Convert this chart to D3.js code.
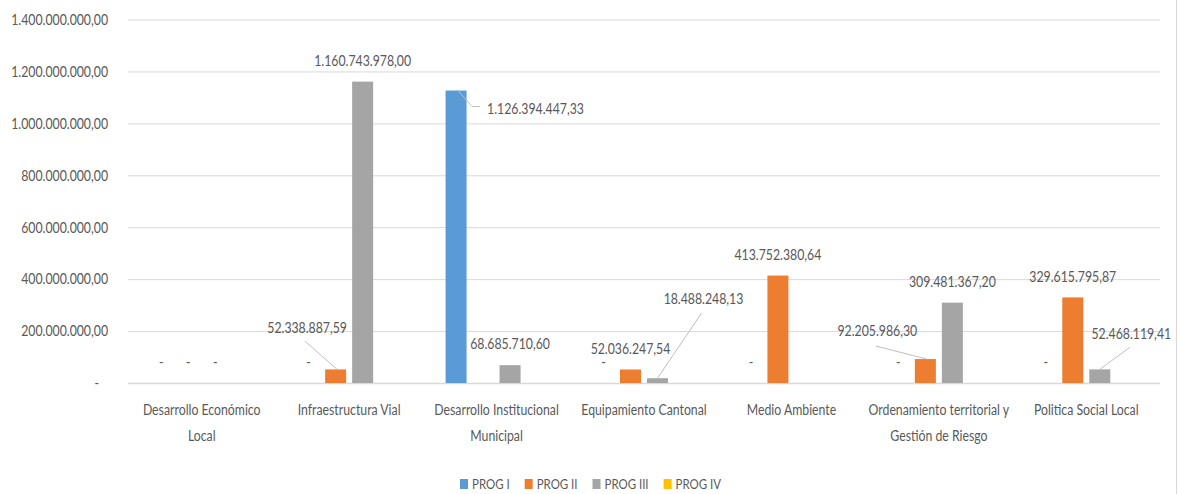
<!DOCTYPE html>
<html><head><meta charset="utf-8">
<script src="https://cdn.jsdelivr.net/npm/d3@7"></script>
<style>
html,body{margin:0;padding:0;background:#fff;}
svg text{font-family:Lato,"Open Sans",sans-serif;fill:#595959;font-size:15px;}
</style></head><body>
<svg id="chart" width="1181" height="494"></svg>
<script>
// ---- data ----
const categories = [
  "Desarrollo Económico Local",
  "Infraestructura Vial",
  "Desarrollo Institucional Municipal",
  "Equipamiento Cantonal",
  "Medio Ambiente",
  "Ordenamiento territorial y Gestión de Riesgo",
  "Politica Social Local"
];
const seriesNames = ["PROG I", "PROG II", "PROG III", "PROG IV"];
const progI   = [0, 0, 1126394447.33, 0, 0, 0, 0];
const progII  = [0, 52338887.59, null, 52036247.54, 413752380.64, 92205986.30, 329615795.87];
const progIII = [0, 1160743978.00, 68685710.60, 18488248.13, null, 309481367.20, 52468119.41];
const progIV  = [null, null, null, null, null, null, null];
const yTicks = [0, 200000000, 400000000, 600000000, 800000000, 1000000000, 1200000000, 1400000000];
const yTickLabels = ["-", "200.000.000,00", "400.000.000,00", "600.000.000,00", "800.000.000,00",
                     "1.000.000.000,00", "1.200.000.000,00", "1.400.000.000,00"];

// ---- styles / layout ----
const colors = ["#5B9BD5", "#ED7D31", "#A5A5A5", "#FFC000"];
const seriesValues = [progI, progII, progIII, progIV];
const plot = {left: 128, right: 1160, top: 19.5, bottom: 383};
// moved data labels (relative to bar top centre) with leader lines
const movedLabels = {
  "2-0": {dx: 31, dy: 18, anchor: "start", line: [[1, -1], [16, 16], [24, 16]]},
  "1-1": {dx: -28.5, dy: -42, anchor: "middle", line: [[-30.5, -28], [1.5, 0]]},
  "3-2": {dx: 46, dy: -79, anchor: "middle", line: [[44, -65], [0, 0]]},
  "5-1": {dx: -48, dy: -28, anchor: "middle", line: [[-49.5, -13], [1.5, 0]]},
  "6-2": {dx: 31.5, dy: -36, anchor: "middle", line: [[30, -22], [0, 0]]}
};

const svg = d3.select("#chart");
const loc = d3.formatLocale({decimal: ",", thousands: ".", grouping: [3], currency: ["", ""]});
const fmt = loc.format(",.2f");

// horizontal squeeze to mimic the narrow font of the reference
const probe = svg.append("text").text("1.400.000.000,00");
const k = 97 / probe.node().getComputedTextLength();
probe.remove();
function sq(t) {
  const x = +t.attr("x") || 0;
  t.attr("x", x / k).attr("transform", `scale(${k},1)`);
  return t;
}

const x0 = d3.scaleBand().domain(d3.range(categories.length))
  .range([plot.left, plot.right]).paddingInner(0.308).paddingOuter(0.154);
const x1 = d3.scaleBand().domain(d3.range(seriesNames.length))
  .range([0, x0.bandwidth()]).paddingInner(0.222).paddingOuter(0);
const y = d3.scaleLinear().domain([0, 1400000000]).range([plot.bottom, plot.top]);

// right border
svg.append("line").attr("x1", 1176.5).attr("x2", 1176.5).attr("y1", 0).attr("y2", 494)
  .attr("stroke", "#D9D9D9").attr("stroke-width", 1);

// gridlines + y axis
const yAxis = d3.axisLeft(y).tickValues(yTicks)
  .tickSize(-(plot.right - plot.left)).tickPadding(20)
  .tickFormat((d, i) => yTickLabels[i]);
const gy = svg.append("g").attr("transform", `translate(${plot.left},0)`).call(yAxis);
gy.select(".domain").remove();
gy.selectAll(".tick line").attr("stroke", "#D9D9D9").attr("stroke-width", d => d === 0 ? 1.6 : 1);
gy.selectAll(".tick text").attr("fill", "#595959").style("font-size", "15px")
  .attr("x", d => d === 0 ? -29 : -20).attr("dy", "0.32em")
  .each(function () { sq(d3.select(this)); });

// bars
const barData = [];
categories.forEach((c, ci) => {
  seriesValues.forEach((arr, si) => {
    barData.push({ci, si, v: arr[ci]});
  });
});
svg.append("g").selectAll("rect").data(barData.filter(d => d.v)).join("rect")
  .attr("x", d => x0(d.ci) + x1(d.si))
  .attr("width", x1.bandwidth())
  .attr("y", d => y(d.v))
  .attr("height", d => y(0) - y(d.v))
  .attr("fill", d => colors[d.si]);

// data labels
const lg = svg.append("g");
barData.filter(d => d.v !== null).forEach(d => {
  const cx = x0(d.ci) + x1(d.si) + x1.bandwidth() / 2;
  const top = y(d.v);
  const key = d.ci + "-" + d.si;
  const m = movedLabels[key];
  const label = d.v === 0 ? "-" : fmt(d.v);
  if (m) {
    lg.append("path")
      .attr("d", d3.line()(m.line.map(p => [cx + p[0], top + p[1]])))
      .attr("fill", "none").attr("stroke", "#BFBFBF").attr("stroke-width", 1);
    sq(lg.append("text").attr("x", cx + m.dx).attr("y", top + m.dy)
      .attr("text-anchor", m.anchor).attr("dy", "0.35em").text(label));
  } else {
    sq(lg.append("text").attr("x", cx).attr("y", top - 21)
      .attr("text-anchor", "middle").attr("dy", "0.35em").text(label));
  }
});

// category axis labels (wrapped)
const gx = svg.append("g").attr("transform", `translate(0,${plot.bottom})`)
  .call(d3.axisBottom(x0).tickSize(0).tickFormat(i => categories[i]));
gx.select(".domain").remove();
gx.selectAll(".tick text").attr("fill", "#595959").style("font-size", "15px")
  .each(function () {
    const t = d3.select(this);
    const words = t.text().split(" ");
    t.text(null).attr("y", null).attr("dy", null).attr("transform", `scale(${k},1)`);
    const maxW = 146;
    let line = [];
    let lineNo = 0;
    let ts = t.append("tspan").attr("x", 0).attr("y", 27).attr("dy", "0.32em");
    for (const w of words) {
      line.push(w);
      ts.text(line.join(" "));
      if (ts.node().getComputedTextLength() * k > maxW && line.length > 1) {
        line.pop();
        ts.text(line.join(" "));
        line = [w];
        lineNo++;
        ts = t.append("tspan").attr("x", 0).attr("y", 27 + lineNo * 26).attr("dy", "0.32em").text(w);
      }
    }
  });

// legend
const legend = svg.append("g");
let lx = 0;
seriesNames.forEach((n, i) => {
  const g = legend.append("g").attr("transform", `translate(${lx},0)`);
  g.append("rect").attr("x", 0).attr("y", -5).attr("width", 8).attr("height", 10).attr("fill", colors[i]);
  const t = sq(g.append("text").attr("x", 12).attr("y", 0).attr("dy", "0.35em")
    .style("font-size", "14px").text(n));
  const w = 12 + t.node().getComputedTextLength() * k;
  lx += w + 15;
});
const totalW = lx - 15;
legend.attr("transform", `translate(${(1181 - totalW) / 2},484)`);
</script>
</body></html>
